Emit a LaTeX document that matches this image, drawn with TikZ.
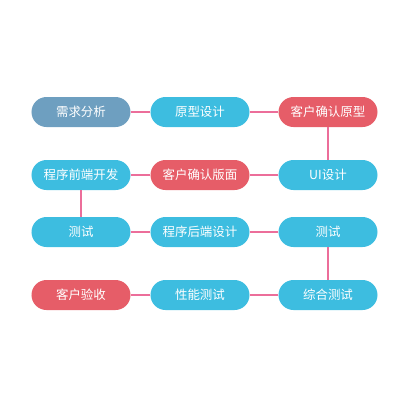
\documentclass[tikz,border=0pt]{standalone}
\usepackage{fontspec}
\setmainfont{Noto Sans CJK SC}
\usetikzlibrary{positioning}
\definecolor{stepgray}{RGB}{110,159,192}
\definecolor{stepcyan}{RGB}{61,189,224}
\definecolor{stepred}{RGB}{230,93,104}
\definecolor{linkpink}{RGB}{236,110,154}

\begin{document}
\begin{tikzpicture}[x=1bp,y=-1bp, every node/.style={font=\fontsize{12.5}{14}\selectfont,text=white}, pill/.style={rounded corners=15bp,minimum width=99bp,minimum height=30bp,inner sep=0pt,align=center}, blue pill/.style={pill,fill=stepcyan}, red pill/.style={pill,fill=stepred}, gray pill/.style={pill,fill=stepgray}, link/.style={color=linkpink,line width=2bp}]
\useasboundingbox (0,0) rectangle (409,419);
\node[gray pill] (req) at (81,112) {需求分析};
\node[blue pill] (proto) at (200,112) {原型设计};
\node[red pill] (okproto) at (328,112) {客户确认原型};
\node[blue pill] (front) at (81,175) {程序前端开发};
\node[red pill] (okpage) at (200,175) {客户确认版面};
\node[blue pill] (ui) at (328,175) {UI设计};
\node[blue pill] (testa) at (81,232) {测试};
\node[blue pill] (back) at (200,232) {程序后端设计};
\node[blue pill] (testb) at (328,232) {测试};
\node[red pill] (accept) at (81,295) {客户验收};
\node[blue pill] (perf) at (200,295) {性能测试};
\node[blue pill] (integ) at (328,295) {综合测试};
\foreach \a/\b in {req/proto,proto/okproto,okproto/ui,ui/okpage,okpage/front,front/testa,testa/back,back/testb,testb/integ,integ/perf,perf/accept}{\draw[link] (\a)--(\b);}
\end{tikzpicture}
\end{document}
